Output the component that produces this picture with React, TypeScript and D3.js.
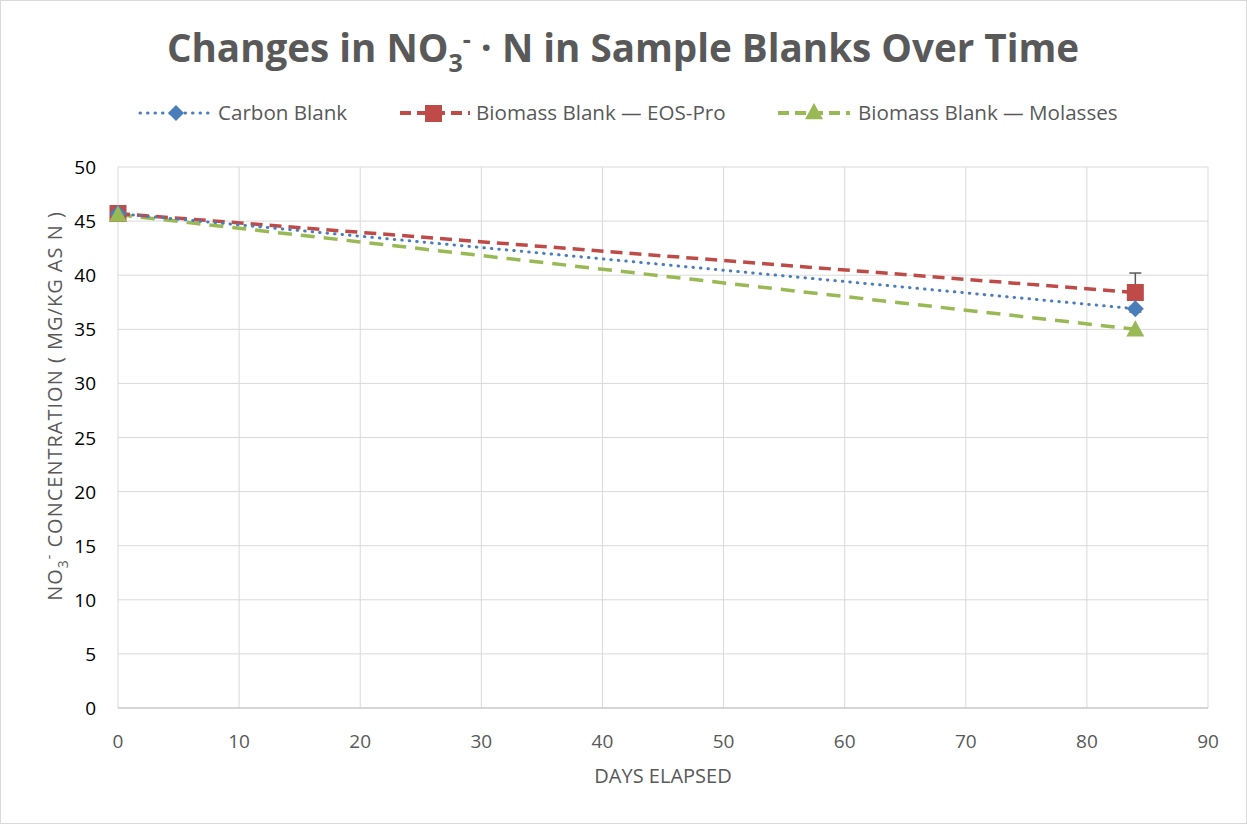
import React from "react";
import * as d3 from "d3";

const days = [0, 84];
const carbonBlank = [45.7, 36.9];
const eosPro = [45.7, 38.4];
const molasses = [45.6, 35.0];
const eosErr = [0, 1.8];
const xTicks = [0, 10, 20, 30, 40, 50, 60, 70, 80, 90];
const yTicks = [0, 5, 10, 15, 20, 25, 30, 35, 40, 45, 50];

const W = 1247, H = 824;
const m = { left: 118, right: 1208, top: 167, bottom: 708 };
const FONT = "'Open Sans', 'Noto Sans', sans-serif";

export default function App() {
  const x = d3.scaleLinear().domain([0, 90]).range([m.left, m.right]);
  const y = d3.scaleLinear().domain([0, 50]).range([m.bottom, m.top]);
  const line = d3.line<number>().x((_, i) => x(days[i])).y((d) => y(d));

  const diamond = (cx: number, cy: number, r: number) =>
    `M${cx},${cy - r}L${cx + r},${cy}L${cx},${cy + r}L${cx - r},${cy}Z`;
  const tri = (cx: number, cy: number, r: number) =>
    `M${cx},${cy - r}L${cx + r},${cy + r * 0.8}L${cx - r},${cy + r * 0.8}Z`;

  const blue = "#4a7ebb", red = "#be4b48", green = "#98b954";

  return (
    <svg width={W} height={H} style={{ display: "block", position: "absolute", left: 0, top: 0 }}>
      <rect x={0.5} y={0.5} width={W - 1} height={H - 1} fill="#fff" stroke="#d9d9d9" />
      <text x={623} y={62} textAnchor="middle" fontFamily={FONT} fontWeight="bold" fontSize={38.6} fill="#595959">
        Changes in NO<tspan fontSize={25} dy={10}>3</tspan><tspan fontSize={25} dy={-24}>-</tspan><tspan dy={14}> · N in Sample Blanks Over Time</tspan>
      </text>
      {/* legend */}
      <g fontFamily={FONT} fontSize={20.6} fill="#595959">
        <line x1={140} x2={212} y1={113} y2={113} stroke={blue} strokeWidth={3} strokeDasharray="0.5,7" strokeLinecap="round" />
        <path d={diamond(176, 113, 8)} fill={blue} />
        <text x={218} y={120}>Carbon Blank</text>
        <line x1={400} x2={470} y1={113} y2={113} stroke={red} strokeWidth={4} strokeDasharray="11,6" />
        <rect x={425} y={105} width={17} height={17} fill={red} />
        <text x={476} y={120}>Biomass Blank — EOS-Pro</text>
        <line x1={778} x2={850} y1={113} y2={113} stroke={green} strokeWidth={4} strokeDasharray="11,6" />
        <path d={tri(814, 112, 9)} fill={green} />
        <text x={858} y={120}>Biomass Blank — Molasses</text>
      </g>
      {/* grid */}
      {yTicks.map((t) => (
        <line key={"gy" + t} x1={m.left} x2={m.right} y1={y(t)} y2={y(t)} stroke="#d9d9d9" strokeWidth={1} />
      ))}
      {xTicks.map((t) => (
        <line key={"gx" + t} x1={x(t)} x2={x(t)} y1={m.top} y2={m.bottom} stroke="#d9d9d9" strokeWidth={1} />
      ))}
      <line x1={m.left} x2={m.right} y1={m.bottom} y2={m.bottom} stroke="#bfbfbf" />
      {/* tick labels */}
      <g fontFamily={FONT} fontSize={19}>
        {yTicks.map((t) => (
          <text key={"ty" + t} x={96} y={y(t) + 7} textAnchor="end" fill="#000">{t}</text>
        ))}
        {xTicks.map((t) => (
          <text key={"tx" + t} x={x(t)} y={748} textAnchor="middle" fill="#595959">{t}</text>
        ))}
      </g>
      <text x={663} y={783} textAnchor="middle" fontFamily={FONT} fontSize={20} fill="#595959">DAYS ELAPSED</text>
      <text transform={`translate(62,406) rotate(-90)`} textAnchor="middle" fontFamily={FONT} fontSize={20} letterSpacing={1} fill="#595959">
        NO<tspan fontSize={14} dy={6}>3</tspan><tspan fontSize={14} dy={-14}>-</tspan><tspan dy={8}> CONCENTRATION ( MG/KG AS N )</tspan>
      </text>
      {/* error bar */}
      {days.map((d, i) =>
        eosErr[i] > 0 ? (
          <g key={"e" + i} stroke="#595959" strokeWidth={1.5}>
            <line x1={x(d)} x2={x(d)} y1={y(eosPro[i] + eosErr[i])} y2={y(eosPro[i] - eosErr[i])} />
            <line x1={x(d) - 6} x2={x(d) + 6} y1={y(eosPro[i] + eosErr[i])} y2={y(eosPro[i] + eosErr[i])} />
            <line x1={x(d) - 6} x2={x(d) + 6} y1={y(eosPro[i] - eosErr[i])} y2={y(eosPro[i] - eosErr[i])} />
          </g>
        ) : null
      )}
      {/* lines */}
      <path d={line(molasses) || ""} fill="none" stroke={green} strokeWidth={3.5} strokeDasharray="14,9" />
      <path d={line(eosPro) || ""} fill="none" stroke={red} strokeWidth={3.5} strokeDasharray="12,7" />
      <path d={line(carbonBlank) || ""} fill="none" stroke={blue} strokeWidth={3} strokeDasharray="0.5,7" strokeLinecap="round" />
      {/* markers */}
      {days.map((d, i) => (
        <rect key={"r" + i} x={x(d) - 8.5} y={y(eosPro[i]) - 8.5} width={17} height={17} fill={red} />
      ))}
      {days.map((d, i) => (
        <path key={"dm" + i} d={diamond(x(d), y(carbonBlank[i]), 8.5)} fill={blue} />
      ))}
      {days.map((d, i) => (
        <path key={"t" + i} d={tri(x(d), y(molasses[i]), 9)} fill={green} />
      ))}
    </svg>
  );
}
